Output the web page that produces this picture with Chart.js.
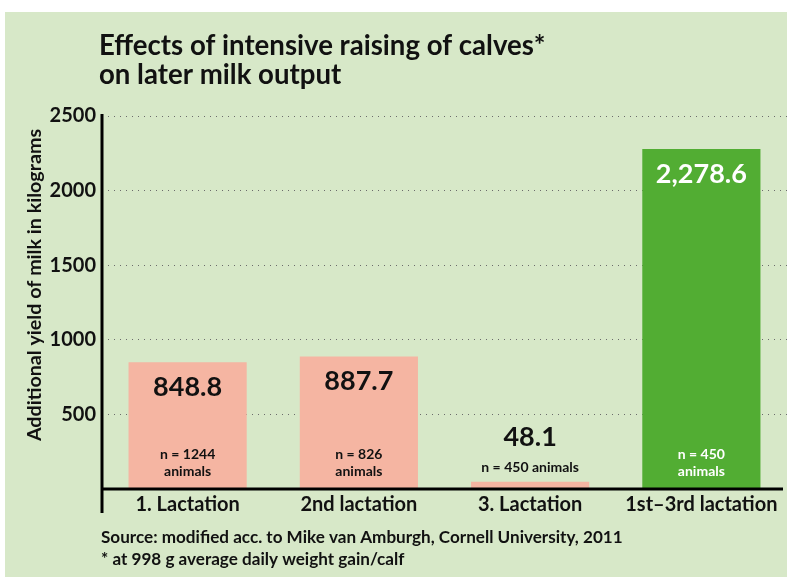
<!DOCTYPE html>
<html>
<head>
<meta charset="utf-8">
<script src="https://cdn.jsdelivr.net/npm/chart.js@4"></script>
<style>
  html, body { margin: 0; padding: 0; background: #fff; }
  #wrap { width: 787px; height: 577px; position: relative; }
</style>
</head>
<body>
<div id="wrap"><canvas id="milkChart" width="787" height="577"></canvas></div>
<script>
// data
const categories = ['1. Lactation', '2nd lactation', '3. Lactation', '1st\u20133rd lactation'];
const yieldKg = [848.8, 887.7, 48.1, 2278.6];
const valueLabels = ['848.8', '887.7', '48.1', '2,278.6'];
const sampleLabels = [['n = 1244', 'animals'], ['n = 826', 'animals'], ['n = 450 animals'], ['n = 450', 'animals']];
const yTicks = [500, 1000, 1500, 2000, 2500];

const barColors = ['#f5b5a2', '#f5b5a2', '#f5b5a2', '#52ad33'];
const bgGreen = '#d7e8c8';
const FONT = 'Lato, "Open Sans", sans-serif';

// background, axis lines and all the extra text
const decorPlugin = {
    id: 'decor',
    beforeDraw(chart) {
        const ctx = chart.ctx;
        ctx.save();
        ctx.fillStyle = bgGreen;
        ctx.fillRect(5, 12, chart.width - 5, chart.height - 12);
        ctx.restore();
    },
    afterDraw(chart) {
        const { ctx, chartArea } = chart;
        const yScale = chart.scales.y;
        const base = yScale.getPixelForValue(0);
        ctx.save();

        // axes
        ctx.strokeStyle = '#000';
        ctx.lineWidth = 3;
        ctx.beginPath();
        ctx.moveTo(chartArea.left, yScale.getPixelForValue(2500) - 2);
        ctx.lineTo(chartArea.left, base + 24);
        ctx.moveTo(chartArea.left, base);
        ctx.lineTo(chartArea.right - 4, base);
        ctx.stroke();

        // title
        ctx.fillStyle = '#111';
        ctx.textAlign = 'left';
        ctx.textBaseline = 'alphabetic';
        ctx.font = `bold 27.6px ${FONT}`;
        ctx.fillText('Effects of intensive raising of calves*', 99, 55);
        ctx.fillText('on later milk output', 99, 84);

        // footer
        ctx.font = `bold 17.1px ${FONT}`;
        ctx.fillText('Source: modified acc. to Mike van Amburgh, Cornell University, 2011', 101, 543);
        ctx.fillText('* at 998 g average daily weight gain/calf', 101, 565);

        // y axis title
        ctx.save();
        ctx.translate(35, 285);
        ctx.rotate(-Math.PI / 2);
        ctx.textAlign = 'center';
        ctx.textBaseline = 'middle';
        ctx.font = `bold 19.7px ${FONT}`;
        ctx.fillText('Additional yield of milk in kilograms', 0, 0);
        ctx.restore();

        // value labels on the bars
        const meta = chart.getDatasetMeta(0);
        meta.data.forEach((bar, i) => {
            const inside = yieldKg[i] > 300;
            const white = i === 3;
            ctx.fillStyle = white ? '#fff' : '#111';
            ctx.textAlign = 'center';
            ctx.textBaseline = 'middle';
            ctx.font = `bold 27px ${FONT}`;
            const vy = inside ? bar.y + 25 : bar.y - 45;
            ctx.fillText(valueLabels[i], bar.x, vy);

            ctx.font = `bold 14px ${FONT}`;
            const lines = sampleLabels[i];
            if (lines.length === 1) {
                ctx.fillText(lines[0], bar.x, base - 22);
            } else {
                ctx.fillText(lines[0], bar.x, base - 35);
                ctx.fillText(lines[1], bar.x, base - 18);
            }
        });
        ctx.restore();
    }
};

const ctx = document.getElementById('milkChart').getContext('2d');
new Chart(ctx, {
    type: 'bar',
    data: {
        labels: categories,
        datasets: [{
            data: yieldKg,
            backgroundColor: barColors,
            borderWidth: 0,
            barPercentage: 0.69,
            categoryPercentage: 1
        }]
    },
    options: {
        responsive: false,
        animation: false,
        events: [],
        layout: {
            padding: { top: 116, right: 0, bottom: 58, left: 0 }
        },
        plugins: {
            legend: { display: false },
            tooltip: { enabled: false }
        },
        scales: {
            x: {
                grid: { display: false, drawTicks: false },
                border: { display: false },
                ticks: {
                    color: '#111',
                    font: { family: FONT, size: 20, weight: 'bold' },
                    padding: 4,
                    maxRotation: 0,
                    autoSkip: false
                },
                afterFit(scale) { scale.height = 30; }
            },
            y: {
                min: 0,
                max: 2500,
                afterBuildTicks(scale) {
                    scale.ticks = [0].concat(yTicks).map(v => ({ value: v }));
                },
                grid: {
                    drawTicks: false,
                    color: c => c.tick && c.tick.value === 0 ? 'rgba(0,0,0,0)' : '#6b6b6b',
                    lineWidth: 1
                },
                border: { display: false, dash: [1, 5] },
                ticks: {
                    color: '#111',
                    font: { family: FONT, size: 20, weight: 'bold' },
                    padding: 6,
                    callback: v => v === 0 ? '' : String(v)
                },
                afterFit(scale) { scale.width = 102; }
            }
        }
    },
    plugins: [decorPlugin]
});
</script>
</body>
</html>
